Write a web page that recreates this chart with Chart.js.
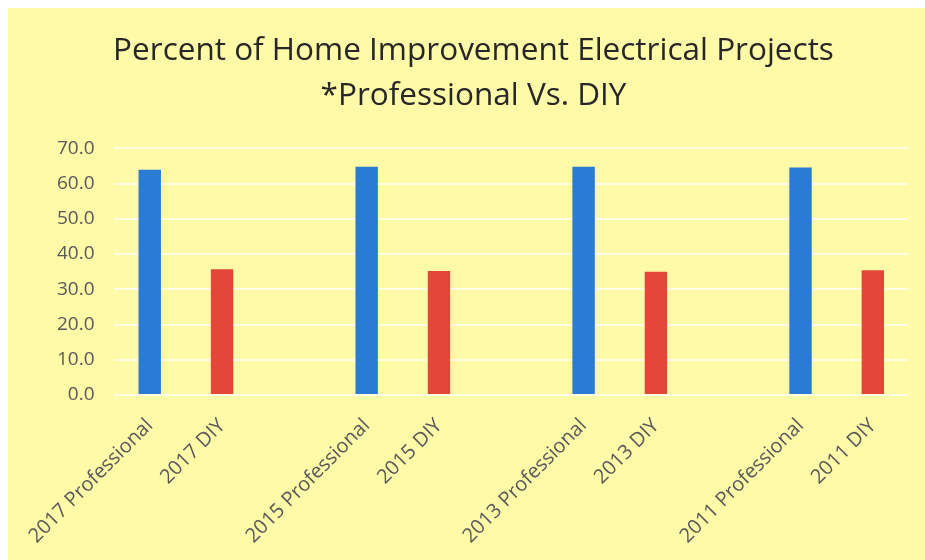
<!DOCTYPE html>
<html>
<head>
<meta charset="utf-8">
<script src="https://cdn.jsdelivr.net/npm/chart.js@4"></script>
<style>
    body { margin: 0; background: #ffffff; }
    #box {
        position: absolute;
        left: 8px;
        top: 8px;
        width: 917px;
        height: 552px;
        background: #fffaa8;
    }
</style>
</head>
<body>
<div id="box"><canvas id="electricChart"></canvas></div>
<script>
// data
const categories = [
    '2017 Professional', '2017 DIY', '',
    '2015 Professional', '2015 DIY', '',
    '2013 Professional', '2013 DIY', '',
    '2011 Professional', '2011 DIY'
];
const percentValues = [63.9, 35.7, null, 64.8, 35.2, null, 64.8, 35.0, null, 64.6, 35.4];
const yTicks = [0, 10, 20, 30, 40, 50, 60, 70];

const titleLines = ['Percent of Home Improvement Electrical Projects', '*Professional Vs. DIY'];

// blue for professional, red for DIY
const barColors = categories.map(c => c.indexOf('DIY') >= 0 ? '#e4473a' : '#2a7bd4');

const ctx = document.getElementById('electricChart').getContext('2d');
new Chart(ctx, {
    type: 'bar',
    data: {
        labels: categories,
        datasets: [{
            data: percentValues,
            backgroundColor: barColors,
            borderWidth: 0,
            categoryPercentage: 1.0,
            barPercentage: 0.31
        }]
    },
    options: {
        responsive: true,
        maintainAspectRatio: false,
        animation: false,
        layout: {
            padding: { left: 30, right: 16, top: 0, bottom: 10 }
        },
        plugins: {
            legend: { display: false },
            tooltip: { enabled: false },
            title: {
                display: true,
                text: titleLines,
                color: '#272727',
                font: { family: 'Open Sans', size: 31.5, weight: 'normal', lineHeight: 1.45 },
                padding: { top: 20, bottom: 29 }
            }
        },
        scales: {
            x: {
                grid: { display: false, drawTicks: false },
                border: { display: false },
                ticks: {
                    color: '#595959',
                    font: { family: 'Open Sans', size: 20 },
                    minRotation: 45,
                    maxRotation: 45,
                    autoSkip: false,
                    padding: 19
                },
                afterFit: (axis) => {
                    // keep the long rotated labels from pushing the plot area around
                    axis.paddingLeft = 0;
                    axis.paddingRight = 0;
                    axis.height = 155;
                }
            },
            y: {
                min: 0,
                max: 70,
                afterBuildTicks: (axis) => {
                    axis.ticks = yTicks.map(v => ({ value: v }));
                },
                grid: { color: '#fffde2', lineWidth: 2, drawTicks: false },
                border: { display: false },
                ticks: {
                    color: '#595959',
                    font: { family: 'Open Sans', size: 19 },
                    padding: 19,
                    callback: (v) => Number(v).toFixed(1)
                }
            }
        }
    }
});
</script>
</body>
</html>
